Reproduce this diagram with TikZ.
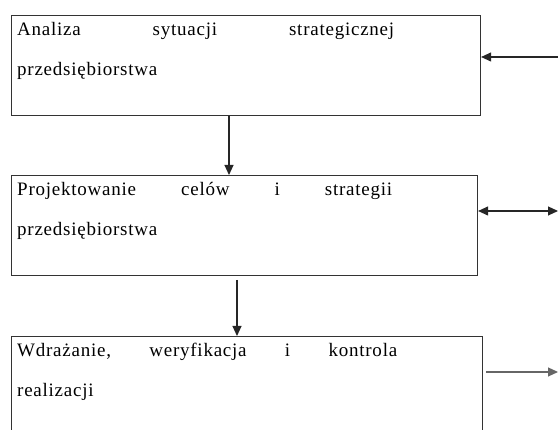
\documentclass[tikz,border=0pt]{standalone}
\usepackage{fontspec}
\setmainfont{Liberation Serif}[LetterSpace=4]
\usetikzlibrary{arrows.meta,calc}
\tikzset{
  box/.style={draw=black!80, line width=1.1pt, minimum width=469pt, minimum height=100pt, anchor=north west, inner sep=0pt},
  txt/.style={anchor=base west, inner sep=0pt, font=\fontsize{19}{21}\selectfont},
  conn/.style={draw=black!85, line width=1.1pt, -{Triangle[length=10pt,width=9pt]}},
  conn2/.style={draw=black!85, line width=1.1pt, {Triangle[length=10pt,width=9pt]}-{Triangle[length=10pt,width=9pt]}}
}
\begin{document}
\begin{tikzpicture}[x=1pt,y=1pt]
\useasboundingbox (0,0) rectangle (558,430);
\clip (0,0) rectangle (558,430);
% boxes
\node[box] (b1) at (11,415) {};
\node[box, minimum width=466pt] (b2) at (11,255) {};
\node[box, minimum width=471pt] (b3) at (11,94) {};
% texts
\node[txt] (t1a) at ($(b1.north west)+(6,-21)$) {\hbox to 377pt{Analiza\hfill sytuacji\hfill strategicznej}};
\node[txt] (t1b) at ($(b1.north west)+(6,-61)$) {przedsiębiorstwa};
\node[txt] (t2a) at ($(b2.north west)+(6,-21)$) {\hbox to 375pt{Projektowanie\hfill celów\hfill i\hfill strategii}};
\node[txt] (t2b) at ($(b2.north west)+(6,-61)$) {przedsiębiorstwa};
\node[txt] (t3a) at ($(b3.north west)+(6,-21)$) {\hbox to 380pt{Wdrażanie,\hfill weryfikacja\hfill i\hfill kontrola}};
\node[txt] (t3b) at ($(b3.north west)+(6,-61)$) {realizacji};
% free ends
\coordinate (e1) at (558,373);
\coordinate (e2) at (558,219);
\coordinate (e3) at (558,58);
\coordinate (s2) at (237,150);
% connectors
\draw[conn] (e1) -- (b1.east |- e1);
\draw[conn2] (b2.east |- e2) -- (e2);
\draw[conn, draw=black!60] ($(b3.east |- e3)+(3,0)$) -- (e3);
\draw[conn] (b1.south -| 229,0) -- (b2.north -| 229,0);
\draw[conn] (s2) -- (b3.north -| s2);
\end{tikzpicture}
\end{document}
